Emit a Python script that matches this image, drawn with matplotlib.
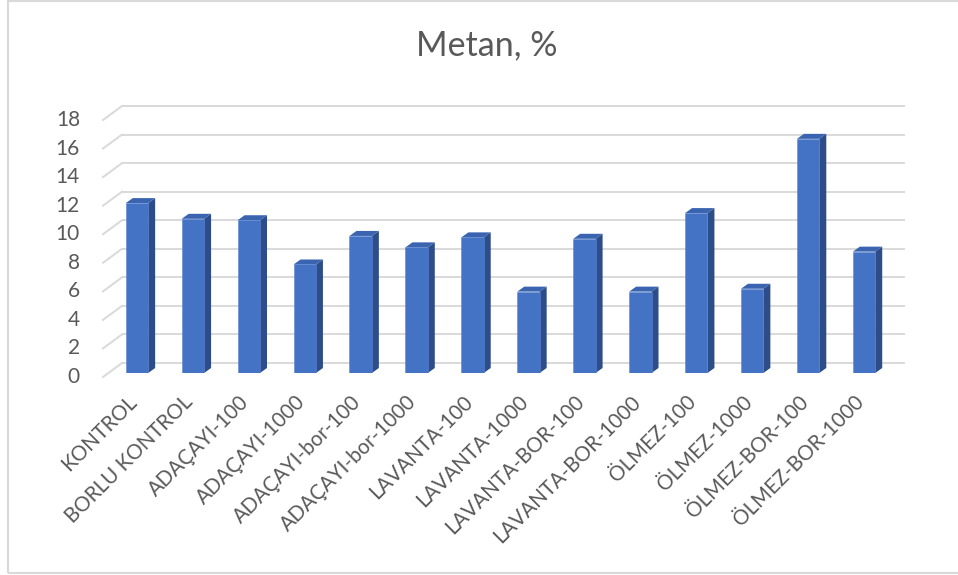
import matplotlib
matplotlib.use("Agg")
import matplotlib.pyplot as plt
from matplotlib.patches import Polygon, Rectangle

# Methane content per treatment
categories = [
    "KONTROL", "BORLU KONTROL", "ADAÇAYI-100", "ADAÇAYI-1000",
    "ADAÇAYI-bor-100", "ADAÇAYI-bor-1000", "LAVANTA-100", "LAVANTA-1000",
    "LAVANTA-BOR-100", "LAVANTA-BOR-1000", "ÖLMEZ-100", "ÖLMEZ-1000",
    "ÖLMEZ-BOR-100", "ÖLMEZ-BOR-1000",
]
metan = [11.9, 10.8, 10.7, 7.6, 9.6, 8.8, 9.5, 5.7, 9.4, 5.7, 11.2, 5.9, 16.4, 8.5]
y_ticks = [0, 2, 4, 6, 8, 10, 12, 14, 16, 18]
title = "Metan, %"

plt.rcParams["font.family"] = ["Lato", "DejaVu Sans"]

W, H, DPI = 958, 575, 100
fig = plt.figure(figsize=(W / DPI, H / DPI), dpi=DPI)

# axes frame = plane of the bar front faces (pixel geometry)
ax_left, ax_right = 109, 892
ax_bottom, ax_top = 373, 116
ax = fig.add_axes([ax_left / W, (H - ax_bottom) / H,
                   (ax_right - ax_left) / W, (ax_bottom - ax_top) / H])
n = len(categories)
ax.set_xlim(-0.5, n - 0.5)
ax.set_ylim(0, 18)
ax.axis("off")

px_x = (ax_right - ax_left) / n          # pixels per category unit
px_y = (ax_bottom - ax_top) / 18.0       # pixels per value unit

def dx(p):
    return p / px_x

def dy(p):
    return p / px_y

grid_c = "#D9D9D9"
text_c = "#595959"

# back wall gridlines and left floor/wall diagonals
back_dx, back_dy = dx(13), dy(10)
front_dx, front_dy = dx(-6), dy(-4)
for v in y_ticks:
    ax.plot([-0.5 + back_dx, n - 0.5 + back_dx], [v + back_dy, v + back_dy],
            color=grid_c, lw=1.4, solid_capstyle="butt", zorder=1, clip_on=False)
    ax.plot([-0.5 + front_dx, -0.5 + back_dx], [v + front_dy, v + back_dy],
            color=grid_c, lw=1.4, zorder=1, clip_on=False)
    ax.text(-0.5 + dx(-29), v + front_dy, str(v), ha="right", va="center",
            fontsize=15, color=text_c)

# 3D-style bars
bw = 0.4
sdx, sdy = dx(7), dy(5)
front_c, side_c, top_c = "#4472C4", "#2C4C8A", "#3A64B0"
for i, v in enumerate(metan):
    x0, x1 = i - bw / 2, i + bw / 2
    ax.add_patch(Polygon([(x1, 0), (x1 + sdx, sdy), (x1 + sdx, v + sdy), (x1, v)],
                         closed=True, facecolor=side_c, edgecolor="none", zorder=3))
    ax.add_patch(Polygon([(x0, v), (x1, v), (x1 + sdx, v + sdy), (x0 + sdx, v + sdy)],
                         closed=True, facecolor=top_c, edgecolor="none", zorder=3))
bars = ax.bar(range(n), metan, width=bw, color=front_c, edgecolor="#5B86D0",
              linewidth=0.4, zorder=4)

# category labels
for i, lab in enumerate(categories):
    ax.text(i + dx(-3), dy(-26), lab, rotation=45, rotation_mode="anchor",
            ha="right", va="center", fontsize=14.8, color=text_c)

fig.text(487 / W, 1 - 45 / H, title, ha="center", va="center",
         fontsize=24.5, color=text_c)

# chart border
fig.add_artist(Rectangle((8 / W, 2 / H), 1.2, 1 - 3 / H, transform=fig.transFigure,
                         fill=False, edgecolor=grid_c, lw=1.5))

fig.savefig("out.png", dpi=DPI)
